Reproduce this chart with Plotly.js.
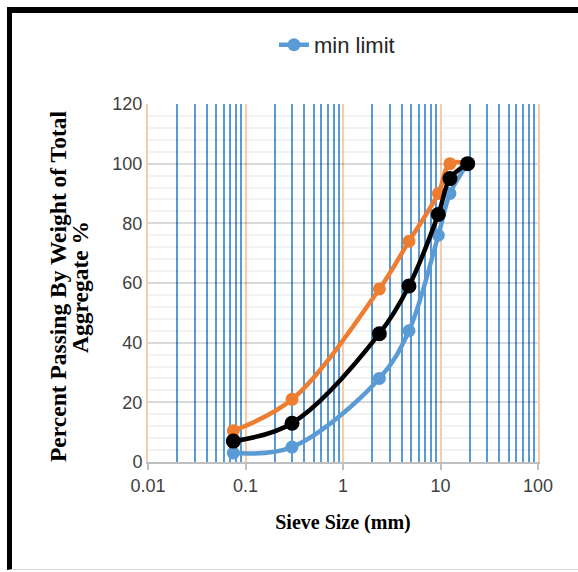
<!DOCTYPE html>
<html>
<head>
<meta charset="utf-8">
<script src="https://cdn.plot.ly/plotly-3.0.1.min.js"></script>
<style>
html,body{margin:0;padding:0;background:#fff;}
#wrap{position:relative;width:578px;height:572px;}
#chart{position:absolute;left:0;top:0;width:578px;height:572px;}
#frame{position:absolute;left:7px;top:7px;width:571px;height:563px;border-top:6px solid #000;border-left:5px solid #000;border-bottom:1px solid #d9d9d9;box-sizing:border-box;pointer-events:none;}
</style>
</head>
<body>
<div id="wrap">
<div id="chart"></div>
<div id="frame"></div>
</div>
<script>
const sieveSizes = [0.075, 0.3, 2.36, 4.75, 9.5, 12.5, 19];
const minLimit   = [3, 5, 28, 44, 76, 90, 100];
const maxLimit   = [10.5, 21, 58, 74, 90, 100, 100];
const gradation  = [7, 13, 43, 59, 83, 95, 100];
const xTickVals  = [0.01, 0.1, 1, 10, 100];
const xTickText  = ['0.01', '0.1', '1', '10', '100'];
const yTitleLines = ['Percent Passing By Weight of Total', 'Aggregate %'];

const titleFont = {family: 'Liberation Serif, Times New Roman, serif', size: 23.5, color: '#000', weight: 'bold'};

const traces = [
  {x: sieveSizes, y: minLimit, name: 'min limit', mode: 'lines+markers',
   line: {color: '#5b9bd5', width: 4.5, shape: 'spline', smoothing: 1},
   marker: {color: '#5b9bd5', size: 13}, showlegend: true},
  {x: sieveSizes, y: maxLimit, name: 'max limit', mode: 'lines+markers',
   line: {color: '#ed7d31', width: 4.5, shape: 'spline', smoothing: 1},
   marker: {color: '#ed7d31', size: 13}, showlegend: false},
  {x: sieveSizes, y: gradation, name: 'gradation', mode: 'lines+markers',
   line: {color: '#000000', width: 4.5, shape: 'spline', smoothing: 1},
   marker: {color: '#000000', size: 15}, showlegend: false}
];

const layout = {
  width: 578, height: 572,
  margin: {l: 148, r: 40, t: 104, b: 110},
  paper_bgcolor: '#ffffff', plot_bgcolor: '#ffffff',
  font: {family: 'Liberation Sans, Arial, sans-serif', size: 17, color: '#404040'},
  showlegend: true,
  legend: {orientation: 'h', x: 0.323, y: 1.165, xanchor: 'left', yanchor: 'middle',
           font: {size: 22, color: '#262626'}, bgcolor: 'rgba(0,0,0,0)'},
  xaxis: {
    type: 'log', range: [-2, 2],
    tickvals: xTickVals, ticktext: xTickText,
    showgrid: true, gridcolor: '#f8cbad', gridwidth: 2,
    minor: {dtick: 'D1', showgrid: true, gridcolor: '#5b9bd5', gridwidth: 2, griddash: 'solid', ticks: ''},
    showline: true, linecolor: '#bfbfbf', linewidth: 2,
    ticks: 'outside', ticklen: 6, tickcolor: '#bfbfbf', tickwidth: 2,
    tickfont: {size: 18, color: '#404040'},
    zeroline: false,
    title: {text: 'Sieve Size (mm)', standoff: 20,
            font: {family: 'Liberation Serif, Times New Roman, serif', size: 20, color: '#000', weight: 'bold'}}
  },
  yaxis: {
    range: [0, 120], dtick: 20,
    showgrid: true, gridcolor: 'rgba(0,0,0,0.15)', gridwidth: 2,
    minor: {dtick: 4, showgrid: true, gridcolor: 'rgba(0,0,0,0.05)', gridwidth: 2, griddash: 'solid'},
    showline: true, linecolor: '#f8cbad', linewidth: 2, mirror: true,
    zeroline: false,
    ticks: '', tickfont: {size: 18, color: '#404040'}
  },
  annotations: [
    {text: yTitleLines[0], xref: 'paper', yref: 'paper', x: (58 - 148) / 390, y: (462 - 287) / 358,
     xanchor: 'center', yanchor: 'middle', textangle: -90, showarrow: false, font: titleFont},
    {text: yTitleLines[1], xref: 'paper', yref: 'paper', x: (80 - 148) / 390, y: (462 - 287) / 358,
     xanchor: 'center', yanchor: 'middle', textangle: -90, showarrow: false, font: titleFont}
  ]
};

Plotly.newPlot('chart', traces, layout, {displayModeBar: false, staticPlot: true});
</script>
</body>
</html>
